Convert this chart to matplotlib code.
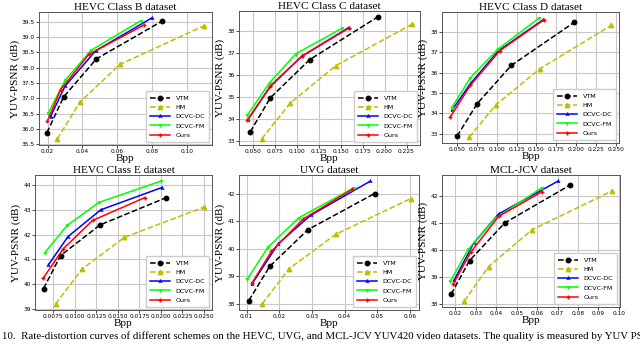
import matplotlib
matplotlib.use("Agg")
import matplotlib.pyplot as plt

W, H = 640, 345

methods = ["VTM", "HM", "DCVC-DC", "DCVC-FM", "Ours"]
colors = ["k", "y", "b", "lime", "r"]
styles = ["--", "--", "-", "-", "-"]
markers = ["o", "^", "2", "1", "+"]
msizes = [3.2, 3.2, 3, 3, 3]

titles = ["HEVC Class B dataset", "HEVC Class C dataset", "HEVC Class D dataset",
          "HEVC Class E dataset", "UVG dataset", "MCL-JCV dataset"]

# bpp / psnr per dataset, order: VTM, HM, DCVC-DC, DCVC-FM, Ours
b_bpp = [[0.0196, 0.0292, 0.0480, 0.0856],
         [0.0256, 0.0385, 0.0615, 0.1097],
         [0.0217, 0.0300, 0.0475, 0.0796],
         [0.0204, 0.0300, 0.0450, 0.0733],
         [0.0198, 0.0275, 0.0437, 0.0755]]
b_psnr = [[35.88, 37.05, 38.29, 39.52],
          [35.68, 36.88, 38.11, 39.37],
          [36.41, 37.40, 38.55, 39.62],
          [36.52, 37.59, 38.57, 39.53],
          [36.25, 37.29, 38.44, 39.40]]

c_bpp = [[0.0470, 0.0700, 0.1148, 0.1920],
         [0.0600, 0.0924, 0.1443, 0.2310],
         [0.0443, 0.0700, 0.1057, 0.1590],
         [0.0436, 0.0690, 0.0992, 0.1515],
         [0.0436, 0.0700, 0.1057, 0.1590]]
c_psnr = [[33.42, 34.97, 36.70, 38.63],
          [33.10, 34.72, 36.42, 38.30],
          [33.97, 35.50, 36.85, 38.15],
          [34.17, 35.65, 36.97, 38.12],
          [33.94, 35.48, 36.85, 38.12]]

d_bpp = [[0.0500, 0.0752, 0.1183, 0.1976],
         [0.0655, 0.0990, 0.1544, 0.2437],
         [0.0437, 0.0668, 0.1020, 0.1580],
         [0.0433, 0.0668, 0.1010, 0.1534],
         [0.0412, 0.0668, 0.1037, 0.1590]]
d_psnr = [[32.87, 34.47, 36.36, 38.49],
          [32.83, 34.42, 36.20, 38.33],
          [34.16, 35.46, 37.08, 38.60],
          [34.28, 35.75, 37.15, 38.70],
          [33.80, 35.38, 37.08, 38.60]]

e_bpp = [[0.00636, 0.00833, 0.01292, 0.02060],
         [0.00777, 0.01083, 0.01576, 0.02500],
         [0.00693, 0.00920, 0.01300, 0.02010],
         [0.00648, 0.00910, 0.01280, 0.02000],
         [0.00630, 0.00864, 0.01205, 0.01811]]
e_psnr = [[39.82, 41.15, 42.39, 43.49],
          [39.20, 40.61, 41.89, 43.11],
          [40.78, 41.92, 43.00, 43.90],
          [41.26, 42.37, 43.30, 44.16],
          [40.23, 41.42, 42.57, 43.49]]

u_bpp = [[0.0107, 0.0171, 0.0288, 0.0492],
         [0.0148, 0.0230, 0.0373, 0.0603],
         [0.0117, 0.0197, 0.0296, 0.0479],
         [0.0102, 0.0166, 0.0260, 0.0429],
         [0.0117, 0.0176, 0.0273, 0.0423]]
u_psnr = [[38.12, 39.36, 40.69, 42.00],
          [38.00, 39.27, 40.52, 41.82],
          [38.73, 40.18, 41.21, 42.45],
          [38.89, 40.06, 41.12, 42.21],
          [38.76, 39.90, 41.07, 42.15]]

m_bpp = [[0.0179, 0.0269, 0.0441, 0.0759],
         [0.0244, 0.0362, 0.0575, 0.0966],
         [0.0193, 0.0289, 0.0411, 0.0703],
         [0.0174, 0.0264, 0.0395, 0.0625],
         [0.0190, 0.0275, 0.0411, 0.0625]]
m_psnr = [[38.37, 39.61, 41.00, 42.39],
          [38.12, 39.39, 40.75, 42.18],
          [38.88, 40.25, 41.33, 42.55],
          [38.84, 40.04, 41.17, 42.31],
          [38.76, 39.92, 41.24, 42.16]]

all_bpp = [b_bpp, c_bpp, d_bpp, e_bpp, u_bpp, m_bpp]
all_psnr = [b_psnr, c_psnr, d_psnr, e_psnr, u_psnr, m_psnr]

# axes boxes in pixels: left, right, top, bottom
boxes = [(39, 212, 12, 145), (239, 420, 11, 145), (442, 619, 12, 143),
         (35, 212, 175, 310), (239, 419, 175, 310), (442, 620, 175, 307)]

fig = plt.figure(figsize=(W / 100, H / 100), dpi=100)

for i in range(6):
    l, r, t, b = boxes[i]
    ax = fig.add_axes([l / W, 1 - b / H, (r - l) / W, (b - t) / H])
    for j, name in enumerate(methods):
        ax.plot(all_bpp[i][j], all_psnr[i][j], color=colors[j], linestyle=styles[j],
                marker=markers[j], markersize=msizes[j], linewidth=1.1, label=name)
    ax.grid(True, color="#c8c8c8", linewidth=0.8)
    ax.set_axisbelow(True)
    ax.tick_params(labelsize=4.2, length=2, width=0.5, pad=1.0)
    for s in ax.spines.values():
        s.set_color("#555555")
        s.set_linewidth(0.7)
    ax.set_title(titles[i], family="Liberation Serif", fontsize=8.1, pad=1.5)
    ax.set_xlabel("Bpp", family="Liberation Serif", fontsize=8.1, labelpad=0)
    ax.set_ylabel("YUV-PSNR (dB)", family="Liberation Serif", fontsize=8.1, labelpad=1.5)
    ax.legend(loc="lower right", fontsize=4.6, handlelength=3.2, borderpad=0.6,
              labelspacing=0.6, framealpha=1, edgecolor="#cccccc", fancybox=False)

fig.text(0.003, 1 - 336 / H, "10.  Rate-distortion curves of different schemes on the HEVC, UVG, "
         "and MCL-JCV YUV420 video datasets. The quality is measured by YUV PSNR.",
         family="Liberation Serif", fontsize=7.8, va="center", ha="left")

fig.savefig("out.png", dpi=100)
